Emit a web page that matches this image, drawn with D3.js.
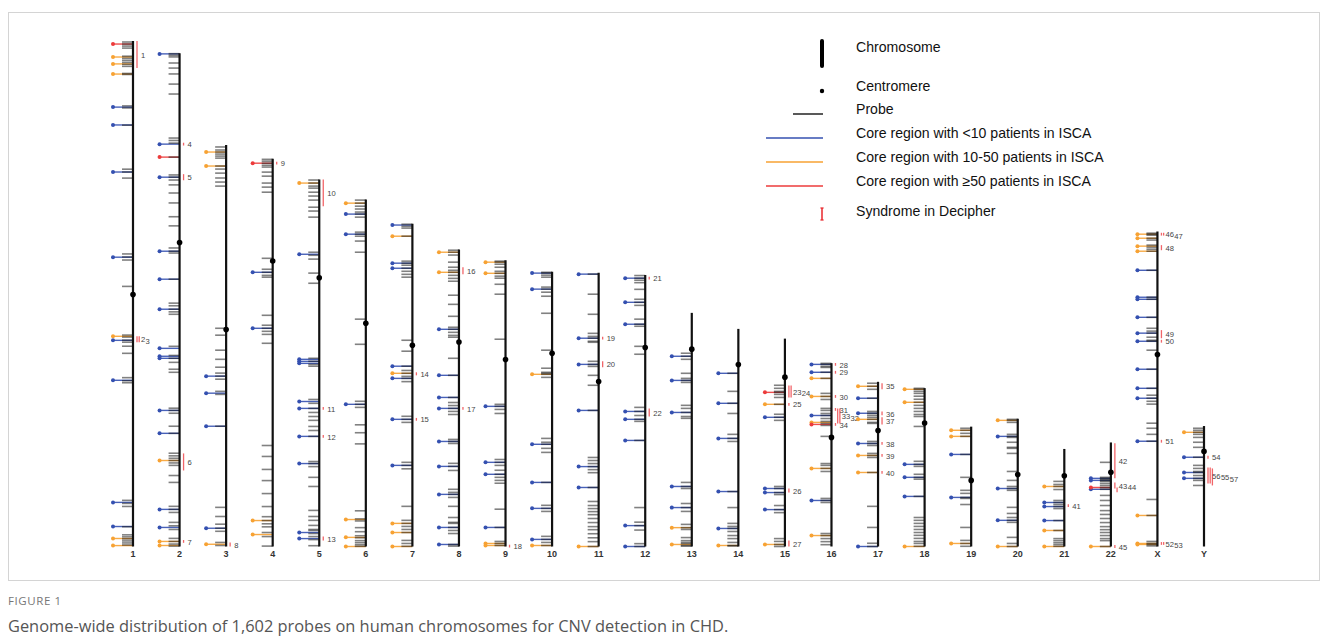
<!DOCTYPE html>
<html>
<head>
<meta charset="utf-8">
<script src="https://cdn.jsdelivr.net/npm/d3@7"></script>
<style>
  html, body { margin: 0; padding: 0; background: #fff; }
  svg { display: block; }
</style>
</head>
<body>
<script>
// ---------------- DATA (Mb, positions measured from p-ter) ----------------
const chromosomes = ["1","2","3","4","5","6","7","8","9","10","11","12","13","14","15","16","17","18","19","20","21","22","X","Y"];
const chromLengths = [249.25,243.2,198.0,191.2,180.9,171.1,159.1,146.4,141.2,135.5,135.0,133.9,115.2,107.3,102.5,90.4,81.2,78.1,59.1,63.0,48.1,51.3,155.3,59.4];
const centromeres = [125,93.3,91,50.4,48.4,61,59.9,45.6,49,40.2,53.7,35.8,17.9,17.6,19,36.6,24,17.2,26.5,27.5,13.2,14.7,60.6,12.5];

const probePositions = [
  [0.5,1.5,2.5,3.5,7.5,8.5,9.5,10.5,11.5,12.5,16,16.5,32,33,41.5,63.2,64.6,67.6,105,106.5,108,121,145,146,147.5,148.5,150.5,154,166,167.5,168.5,226.5,228,229.5,239.5,243.5,244.5,245.5,246.5,247.5,248.5],
  [0.2,1,1.8,4.8,7.3,10.2,15.2,20.1,41.8,43,44.3,51.2,60,61.1,62.5,64.9,68.9,73.8,80.6,85.1,96,97.6,98.5,111.4,123.2,124.5,126.2,127.5,128.7,144.5,149,150.4,152.4,155.8,157.3,175,176.1,177.5,183.9,187.4,197.2,198.5,199.7,200.8,202,203.2,208.2,211.6,223.4,224.9,226.4,231.3,233,234.8,239.2,240.7,242,243],
  [1,2.5,3.5,4.5,5.5,6.5,10.4,11.9,13.9,16.3,18.3,20.3,90.4,93.8,101.2,105.7,109.6,112.5,114,115.5,121.5,123,138.7,178.7,183.2,187,189,190.5,196,197.5],
  [0.3,1.2,2.2,3.2,4.1,6.6,8.6,12,14,16.5,49.1,54.5,56,57.5,58.4,77.2,82.1,83.6,85.1,86.6,91,141.4,146.8,153.2,158.7,165.1,171.5,176.5,178.4,180,181.5,184.3,186.3,191],
  [0.2,1.7,3.2,4.2,6.2,8.1,10.1,13.6,15.5,18.5,35.8,37.3,39.2,46.1,51.1,88.1,89.6,91.1,92,108.4,110.3,112.8,114.8,116.8,118.7,121.7,123.7,126.6,139,140,141.5,146.8,151.3,163.1,166.1,168,170.5,172.5,173,174.5,176,177.5,180.5],
  [0.3,1.8,3.3,4.7,6.2,7.2,8.7,16.1,17.1,18.1,20.5,26,59,71.4,99.5,101,102.5,111.1,115,120.5,153.5,157.5,158.5,161.8,163.8,165.8,166.8,168.2,169.2,170.2,171],
  [0.2,1.2,2.1,6.1,18.4,19.4,20.4,21.9,23.4,24.9,26.3,57.4,62.8,70.2,72.3,73.7,75.2,76.2,77.8,94.9,96.4,97.9,117.6,119.1,120.8,139.3,146.2,147.7,149.2,150.7,152.2,156.1,157.6,159],
  [0.3,1.3,2.7,6.2,8.7,10.2,11.2,12.7,14.2,15.6,22.5,27,32.9,38.3,39.3,40.8,42.3,43.2,53.6,62,72.9,75.4,76.9,78.3,79.8,81.3,93.6,94.6,95.6,105.4,106.9,108.9,118.2,119.7,120.7,122.2,126.6,132.1,134.5,135,137,138.5,140,145.4,146.2],
  [0.5,1,2,3.5,5.5,6.5,7.9,8.9,11.9,16.8,39,71.1,72.1,73.6,75.6,98.3,99.7,101.2,103.6,105.6,107.1,108.6,110,122.8,131.8,138.7,139.7,140.7],
  [0.3,0.7,1.7,2.7,7.6,8.6,10.1,12.1,20.5,38.7,47.6,49.6,50.1,50.6,52.1,82.2,84.1,85.1,87.1,89.1,103.9,115.2,116.7,118.2,130.5,132,133.5,135],
  [0.7,10.6,20.5,29.9,31.4,32.3,33.8,34.3,43.7,45.2,46.2,50.6,55.5,67.9,91.1,92.6,94.1,95.6,97.1,98.6,105.9,112.8,114.8,116.3,117.8,119.3,121.2,123.2,125.2,126.7,128.7,130.7,132.6,135],
  [0.3,1.6,2.6,3.8,7.1,12,13.5,15,21.8,24.3,25.3,35.2,39.1,65.3,67.3,69.3,71.2,72.2,81.6,114.7,121.9,123.6,125.8,132.5,133.9],
  [19.9,21.4,22.9,29.8,32.3,33.3,34.3,45.6,47.1,49.1,51.1,52,83.6,85.6,86.6,94,96,97.9,104.3,105.9,106.8,110.8,112.3,113.2,113.8,114.7,115],
  [21.9,30.8,36.7,41.7,52,54,55.5,80.2,88.1,95.9,97.4,98.4,99.9,101.9,103.4,105.3,106.8,107],
  [23,24.5,26,26.5,27.5,29,32.4,37.3,38.8,40.3,72.9,73.9,75.9,76.9,82.3,84.3,85.8,98.6,100,101.5,102.5],
  [0.1,0.6,1.6,2.1,4.5,7.5,14.9,16.4,17.9,22.3,23.3,24.8,25.8,27.3,28.7,29.7,30.7,36.1,49.5,50.4,51.9,53.4,66.7,67.7,68.7,84,85,86.5,88,89.5],
  [0.7,2.2,3.7,8.1,14.6,15.5,16.5,17.5,18.5,20,20.5,29.4,30.4,31.4,35.3,36.3,37.3,44.7,61.4,71.8,79.6,81.2],
  [0.1,0.6,1.6,2.6,4,5.5,7,8.5,10,11.5,13,14,18.9,36.1,37.6,38.6,42.5,44,44.9,53.4,63.8,65.2,66.7,68.2,69.7,71.2,72.6,74.1,75.6,76.6,78],
  [0.8,1.8,3.3,4.8,13.7,25,31.4,32.9,34.9,35.4,38.4,49.7,56.1,57.6,59],
  [0.3,0.8,1.8,7.7,8.7,9.2,11.6,14.1,14.6,17.1,26,30.4,33.4,34.4,35.3,43.7,46.7,48.7,50.1,51.1,58.5,61.5,63],
  [16,17.5,18.5,20,25.4,26.4,27.4,28.4,29.4,35.3,40.2,44.2,45.2,46.2,47.1,48],
  [9.8,17.2,17.7,18.2,18.7,19.2,20.2,21.2,22.2,23.1,26.1,28.6,31.1,33.6,35.5,37.5,39.5,41.5,43,44.4,45.9,47.4,48.4,51.3],
  [0.8,1.3,1.8,3.3,4.2,6.7,7.7,8.7,9.7,19.1,32.4,33.4,42.3,47.7,49.1,50.1,52.1,53.6,54.1,58.5,67.9,77.3,80.7,82.2,83.7,85.1,94.5,97,100,103.4,132.1,140,152.8,153.8,154.3,155],
  [1.1,2.1,3.1,4.1,5.6,8,10.5,15.4,19.4,20.9,22.4,22.9,24.4,25.8,26.8,29.3]
];

// core regions (<10 patients in ISCA)
const coreLow = [
  [32.6,41.4,64.6,106.6,147.6,167.3,227.5,239.4],
  [0.3,44.8,61.1,97.6,111.4,126.2,145.5,149.4,150.4,176.1,187.4,224.9,233.8],
  [114,122.4,138.7,189],
  [56,83.6],
  [36.8,88.6,89.6,90.6,109.4,112.8,126.6,140,174,177],
  [7.2,17.1,101],
  [0.6,19.4,21.9,70.2,76.2,96.4,119.1],
  [39.3,62,72.9,78.3,94.6,106.9,120.7,137,145.4],
  [72.1,99.7,105.6,131.8],
  [0.7,8.6,85.1,103.9,116.7,132],
  [0.7,32.3,45.2,67.9,95.6,105.9],
  [1.6,13.5,24.3,67.3,71.2,81.6,123.6,133.9],
  [21.4,33.3,49.1,85.6,96],
  [21.9,36.7,54,80.2,98.4],
  [38.8,73.9,75.9,84.3],
  [0.6,4.5,25.8,67.7],
  [8.1,15.5,30.4,81.2],
  [37.6,44,53.4],
  [13.7,34.9],
  [8.7,34.4,50.1],
  [26.4,28.4,35.3],
  [17.7,18.7,23.1],
  [19.1,32.4,33.4,42.3,50.1,54.1,67.9,77.3,82.2,103.4],
  [15.4,22.9,25.8]
];
// core regions (10-50 patients in ISCA)
const coreMid = [
  [7.9,11.3,16.3,145.6,245.3,248.8],
  [200.8,240.7,242.7],
  [3.5,10.4,196.9],
  [178.4,185.3],
  [1.7],
  [1.8,157.8,166.6,171.1],
  [6.1,73.7,147.7,152.2,159.1],
  [1.3,11.2],
  [1,6.5,139.7,140.7],
  [50.6,135],
  [135],
  [],
  [105.9,114.2],
  [106.8],
  [32.4,101.5],
  [7.5,16.4,29.2,51.9,85],
  [2.2,18.5,36.3,44.7],
  [0.6,7,78.1],
  [1.8,4.8,57.6],
  [0.8,63],
  [18.5,40.2,48.1],
  [51.3],
  [1.3,3.3,7.2,9.7,140,153.8,154.3],
  [3.1]
];
// core regions (>=50 patients in ISCA)
const coreHigh = [
  [1.5],[51.2],[],[2.2],[],[],[],[],[],[],[],[],[],[],[26.5],[30.2],[],[],[],[],[],[22.2],[],[]
];
// syndromes in Decipher: [start, end, label]
const syndromes = [
  [[0,13.3,"1"],[145.6,148.5,"2"],[145.6,148.5,"3"]],
  [[44.8,44.8,"4"],[59.6,62.6,"5"],[197.3,205.7,"6"],[240.7,240.7,"7"]],
  [[196,198,"8"]],
  [[2.2,2.2,"9"]],
  [[0,13.1,"10"],[112.8,112.8,"11"],[126.6,126.6,"12"],[176,178,"13"]],
  [],
  [[73.2,74.7,"14"],[96.4,96.4,"15"]],
  [[8.7,12.1,"16"],[78.3,78.3,"17"]],
  [[141,141,"18"]],
  [],
  [[32.3,32.3,"19"],[43.7,46.6,"20"]],
  [[1.6,1.6,"21"],[65.8,69.8,"22"]],
  [],
  [],
  [[23.1,29,"23"],[23.1,29,"24"],[32.4,32.4,"25"],[73.9,75.9,"26"],[99.6,102.5,"27"]],
  [[0.6,0.6,"28"],[4.5,4.5,"29"],[16.4,16.4,"30"],[22.3,23.3,"31"],[22.3,29.7,"33"],[22.3,29.7,"32"],[30.2,30.2,"34"]],
  [[0.7,3.7,"35"],[14.6,16.5,"36"],[17.5,21,"37"],[30.4,30.4,"38"],[36.3,36.3,"39"],[44.7,44.7,"40"]],
  [],
  [],
  [],
  [[27.9,27.9,"41"]],
  [[0.4,17.7,"42"],[19.7,22.7,"43"],[22.2,24.6,"44"],[51.3,51.3,"45"]],
  [[1.3,1.3,"46"],[1.3,1.3,"47"],[6.7,9.2,"48"],[48.6,52.6,"49"],[54.1,54.1,"50"],[103.4,103.4,"51"],[153.8,153.8,"52"],[153.8,153.8,"53"]],
  [[15.4,15.4,"54"],[20.4,28.3,"56"],[20.4,28.3,"55"],[20.9,29.3,"57"]]
];

const legendItems = ["Chromosome","Centromere","Probe","Core region with <10 patients in ISCA","Core region with 10-50 patients in ISCA","Core region with \u226550 patients in ISCA","Syndrome in Decipher"];
const captionTitle = "FIGURE 1";
const captionText = "Genome-wide distribution of 1,602 probes on human chromosomes for CNV detection in CHD.";

// ---------------- DRAWING ----------------
const W = 1328, H = 639;
const COLORS = { low: "#3450b0", mid: "#f7a233", high: "#ec3b3b", syn: "#ee4a4f" };

const svg = d3.select("body").append("svg").attr("width", W).attr("height", H)
  .style("font-family", "'Liberation Sans', Arial, sans-serif");
svg.append("rect").attr("width", W).attr("height", H).attr("fill", "#fff");

// figure frame
svg.append("rect").attr("x", 8.5).attr("y", 12.5).attr("width", 1311).attr("height", 568)
  .attr("fill", "none").attr("stroke", "#d4d4d4").attr("stroke-width", 1);

const x = d3.scalePoint().domain(chromosomes).range([133, 1204]);
const y = d3.scaleLinear().domain([0, d3.max(chromLengths)]).range([546.5, 41]);
const posY = (i, p) => y(chromLengths[i] - p);

const g = svg.append("g");
const CORE_LEN = 20, PROBE_LEN = 11;

chromosomes.forEach((c, i) => {
  const cx = x(c);
  const cg = g.append("g").attr("class", "chr-" + c);
  // core regions
  [["low", coreLow[i]], ["mid", coreMid[i]], ["high", coreHigh[i]]].forEach(([k, arr]) => {
    cg.selectAll(null).data(arr).enter().append("line")
      .attr("x1", cx - CORE_LEN).attr("x2", cx)
      .attr("y1", d => posY(i, d)).attr("y2", d => posY(i, d))
      .attr("stroke", COLORS[k]).attr("stroke-width", 1.4).attr("stroke-opacity", 0.9);
    cg.selectAll(null).data(arr).enter().append("circle")
      .attr("cx", cx - CORE_LEN).attr("cy", d => posY(i, d)).attr("r", 2)
      .attr("fill", COLORS[k]);
  });
  // probes
  cg.selectAll(null).data(probePositions[i]).enter().append("line")
    .attr("x1", cx - PROBE_LEN).attr("x2", cx)
    .attr("y1", d => posY(i, d)).attr("y2", d => posY(i, d))
    .attr("stroke", "#1a1a1a").attr("stroke-width", 1.6).attr("stroke-opacity", 0.55);
  // chromosome
  cg.append("line").attr("x1", cx).attr("x2", cx)
    .attr("y1", posY(i, 0)).attr("y2", posY(i, chromLengths[i]))
    .attr("stroke", "#111").attr("stroke-width", 2.2);
  // centromere
  cg.append("circle").attr("cx", cx).attr("cy", posY(i, centromeres[i])).attr("r", 2.8).attr("fill", "#000");

  // syndromes: lane assignment
  const syn = syndromes[i].map(s => ({ s: s[0], e: s[1], label: s[2] }));
  const laneEnds = [];
  syn.forEach(d => {
    let y1 = posY(i, d.s), y2 = posY(i, d.e);
    if (y2 - y1 < 2.5) { const m = (y1 + y2) / 2; y1 = m - 1.4; y2 = m + 1.4; }
    d.y1 = y1; d.y2 = y2;
    let lane = laneEnds.findIndex(e => e < y1 - 0.5);
    if (lane < 0) { lane = laneEnds.length; laneEnds.push(y2); } else laneEnds[lane] = y2;
    d.lane = lane;
  });
  cg.selectAll(null).data(syn).enter().append("line")
    .attr("x1", d => cx + 4 + d.lane * 2.2).attr("x2", d => cx + 4 + d.lane * 2.2)
    .attr("y1", d => d.y1).attr("y2", d => d.y2)
    .attr("stroke", COLORS.syn).attr("stroke-width", 1.3).attr("stroke-opacity", 0.85);
  // labels with simple collision avoidance
  const placed = [];
  syn.forEach(d => {
    let ly = (d.y1 + d.y2) / 2 + 0.5;
    let lx = cx + 8 + d.lane * 2.2;
    placed.forEach(p => {
      if (Math.abs(p.y - ly) < 5 && lx < p.x + p.w) { lx = p.x + p.w + 0.3; ly = p.y + 1.5; }
    });
    const w = d.label.length * 4.3;
    placed.push({ x: lx, y: ly, w });
    cg.append("text").attr("x", lx).attr("y", ly).attr("dy", "0.35em")
      .attr("font-size", 7.6).attr("fill", "#444").text(d.label);
  });
});

// x-axis labels
g.append("g").selectAll("text").data(chromosomes).enter().append("text")
  .attr("x", d => x(d)).attr("y", 554).attr("dy", "0.35em").attr("text-anchor", "middle")
  .attr("font-size", 9).attr("font-weight", "bold").attr("fill", "#333").text(d => d);

// ---------------- LEGEND ----------------
const lg = svg.append("g");
const legX = 822, textX = 856;
const rowY = [47, 86, 109, 133, 157, 181, 211];
lg.append("line").attr("x1", legX).attr("x2", legX).attr("y1", 41).attr("y2", 66)
  .attr("stroke", "#000").attr("stroke-width", 4).attr("stroke-linecap", "round");
lg.append("circle").attr("cx", legX).attr("cy", 91).attr("r", 2.2).attr("fill", "#000");
lg.append("line").attr("x1", 793).attr("x2", 823).attr("y1", 114).attr("y2", 114).attr("stroke", "#222").attr("stroke-width", 1.5);
[["low", 138], ["mid", 162], ["high", 186]].forEach(([k, yy]) => {
  lg.append("line").attr("x1", 766).attr("x2", 823).attr("y1", yy).attr("y2", yy)
    .attr("stroke", COLORS[k]).attr("stroke-width", 1.4);
});
lg.append("line").attr("x1", legX).attr("x2", legX).attr("y1", 208).attr("y2", 220).attr("stroke", "#e8262b").attr("stroke-width", 1.5);
lg.append("line").attr("x1", legX - 1.6).attr("x2", legX + 1.6).attr("y1", 208).attr("y2", 208).attr("stroke", "#e8262b").attr("stroke-width", 1.2);
lg.append("line").attr("x1", legX - 1.6).attr("x2", legX + 1.6).attr("y1", 220).attr("y2", 220).attr("stroke", "#e8262b").attr("stroke-width", 1.2);
lg.selectAll("text").data(legendItems).enter().append("text")
  .attr("x", textX).attr("y", (d, i) => rowY[i]).attr("dy", "0.35em")
  .attr("font-size", 14.1).attr("fill", "#111").text(d => d);

// ---------------- CAPTION ----------------
svg.append("text").attr("x", 8).attr("y", 605).attr("font-family", "'Open Sans', sans-serif")
  .attr("font-size", 11.5).attr("fill", "#777").attr("letter-spacing", 0.6).text(captionTitle);
svg.append("text").attr("x", 8).attr("y", 632).attr("font-family", "'Open Sans', sans-serif")
  .attr("font-size", 16.4).attr("fill", "#555").text(captionText);
</script>
</body>
</html>
